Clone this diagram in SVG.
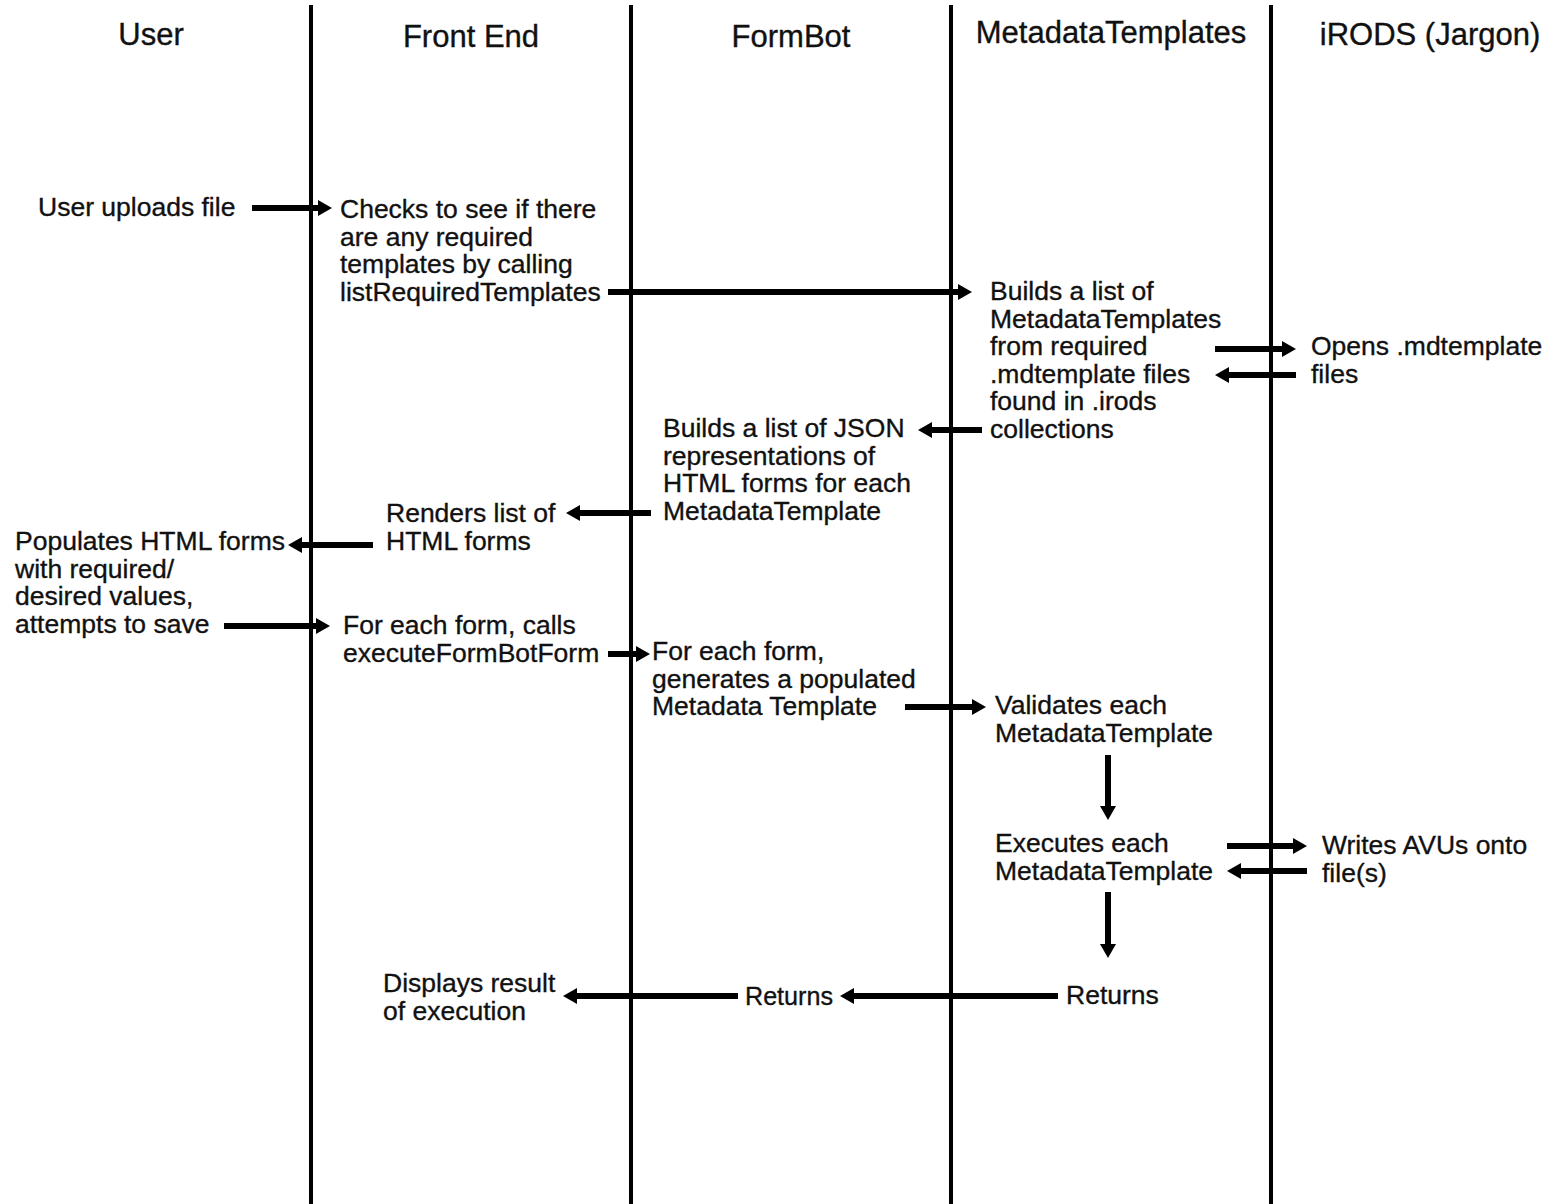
<svg xmlns="http://www.w3.org/2000/svg" width="1554" height="1204" viewBox="0 0 1554 1204">
<style>
.t{font-family:"Liberation Sans",Arial,sans-serif;font-size:26.5px;fill:#111;stroke:#111;stroke-width:0.35}
.h{font-family:"Liberation Sans",Arial,sans-serif;font-size:31px;fill:#111;stroke:#111;stroke-width:0.35;text-anchor:middle}
.life{stroke:#000;stroke-width:4}
.ar{stroke:#000;stroke-width:6;fill:none;marker-end:url(#ah)}
</style>
<defs>
<marker id="ah" markerUnits="userSpaceOnUse" markerWidth="15" markerHeight="16" refX="1" refY="8" orient="auto">
<path d="M0,0 L14,8 L0,16 z" fill="#000"/>
</marker>
</defs>
<rect width="1554" height="1204" fill="#fff"/>
<g id="lifelines">
<line class="life" x1="311" y1="5" x2="311" y2="1204"/>
<line class="life" x1="631" y1="5" x2="631" y2="1204"/>
<line class="life" x1="951" y1="5" x2="951" y2="1204"/>
<line class="life" x1="1271" y1="5" x2="1271" y2="1204"/>
</g>
<g id="headers">
<text class="h" x="151" y="45">User</text>
<text class="h" x="471" y="47">Front End</text>
<text class="h" x="791" y="47">FormBot</text>
<text class="h" x="1111" y="43">MetadataTemplates</text>
<text class="h" x="1430" y="45">iRODS (Jargon)</text>
</g>
<g id="n-upload"><text class="t" x="38" y="216">User uploads file</text></g>
<g id="n-checks"><text class="t" x="340" y="218">Checks to see if there<tspan x="340" dy="27.5">are any required</tspan><tspan x="340" dy="27.5">templates by calling</tspan><tspan x="340" dy="27.5">listRequiredTemplates</tspan></text></g>
<g id="n-builds"><text class="t" x="990" y="300">Builds a list of<tspan x="990" dy="27.5">MetadataTemplates</tspan><tspan x="990" dy="27.5">from required</tspan><tspan x="990" dy="27.5">.mdtemplate files</tspan><tspan x="990" dy="27.5">found in .irods</tspan><tspan x="990" dy="27.5">collections</tspan></text></g>
<g id="n-opens"><text class="t" x="1311" y="355">Opens .mdtemplate<tspan x="1311" dy="27.5">files</tspan></text></g>
<g id="n-json"><text class="t" x="663" y="437">Builds a list of JSON<tspan x="663" dy="27.5">representations of</tspan><tspan x="663" dy="27.5">HTML forms for each</tspan><tspan x="663" dy="27.5">MetadataTemplate</tspan></text></g>
<g id="n-renders"><text class="t" x="386" y="522">Renders list of<tspan x="386" dy="27.5">HTML forms</tspan></text></g>
<g id="n-populates"><text class="t" x="15" y="550">Populates HTML forms<tspan x="15" dy="27.5">with required/</tspan><tspan x="15" dy="27.5">desired values,</tspan><tspan x="15" dy="27.5">attempts to save</tspan></text></g>
<g id="n-foreach"><text class="t" x="343" y="634">For each form, calls<tspan x="343" dy="27.5">executeFormBotForm</tspan></text></g>
<g id="n-generates"><text class="t" x="652" y="660">For each form,<tspan x="652" dy="27.5">generates a populated</tspan><tspan x="652" dy="27.5">Metadata Template</tspan></text></g>
<g id="n-validates"><text class="t" x="995" y="714">Validates each<tspan x="995" dy="27.5">MetadataTemplate</tspan></text></g>
<g id="n-executes"><text class="t" x="995" y="852">Executes each<tspan x="995" dy="27.5">MetadataTemplate</tspan></text></g>
<g id="n-writes"><text class="t" x="1322" y="854">Writes AVUs onto<tspan x="1322" dy="27.5">file(s)</tspan></text></g>
<g id="n-returns1"><text class="t" x="1066" y="1004">Returns</text></g>
<g id="n-returns2"><text class="t" x="745" y="1005" textLength="88" lengthAdjust="spacingAndGlyphs">Returns</text></g>
<g id="n-displays"><text class="t" x="383" y="992">Displays result<tspan x="383" dy="27.5">of execution</tspan></text></g>
<g id="connectors">
<line class="ar" x1="252" y1="208" x2="319" y2="208"/>
<line class="ar" x1="608" y1="292" x2="959" y2="292"/>
<line class="ar" x1="1215" y1="349" x2="1283" y2="349"/>
<line class="ar" x1="1296" y1="375" x2="1228" y2="375"/>
<line class="ar" x1="982" y1="430" x2="931" y2="430"/>
<line class="ar" x1="651" y1="513" x2="579" y2="513"/>
<line class="ar" x1="373" y1="545" x2="301" y2="545"/>
<line class="ar" x1="224" y1="626" x2="317" y2="626"/>
<line class="ar" x1="608" y1="654" x2="637" y2="654"/>
<line class="ar" x1="905" y1="707" x2="973" y2="707"/>
<line class="ar" x1="1108" y1="755" x2="1108" y2="807"/>
<line class="ar" x1="1227" y1="846" x2="1294" y2="846"/>
<line class="ar" x1="1307" y1="871" x2="1240" y2="871"/>
<line class="ar" x1="1108" y1="892" x2="1108" y2="945"/>
<line class="ar" x1="1058" y1="996" x2="853" y2="996"/>
<line class="ar" x1="738" y1="996" x2="576" y2="996"/>
</g>
</svg>
